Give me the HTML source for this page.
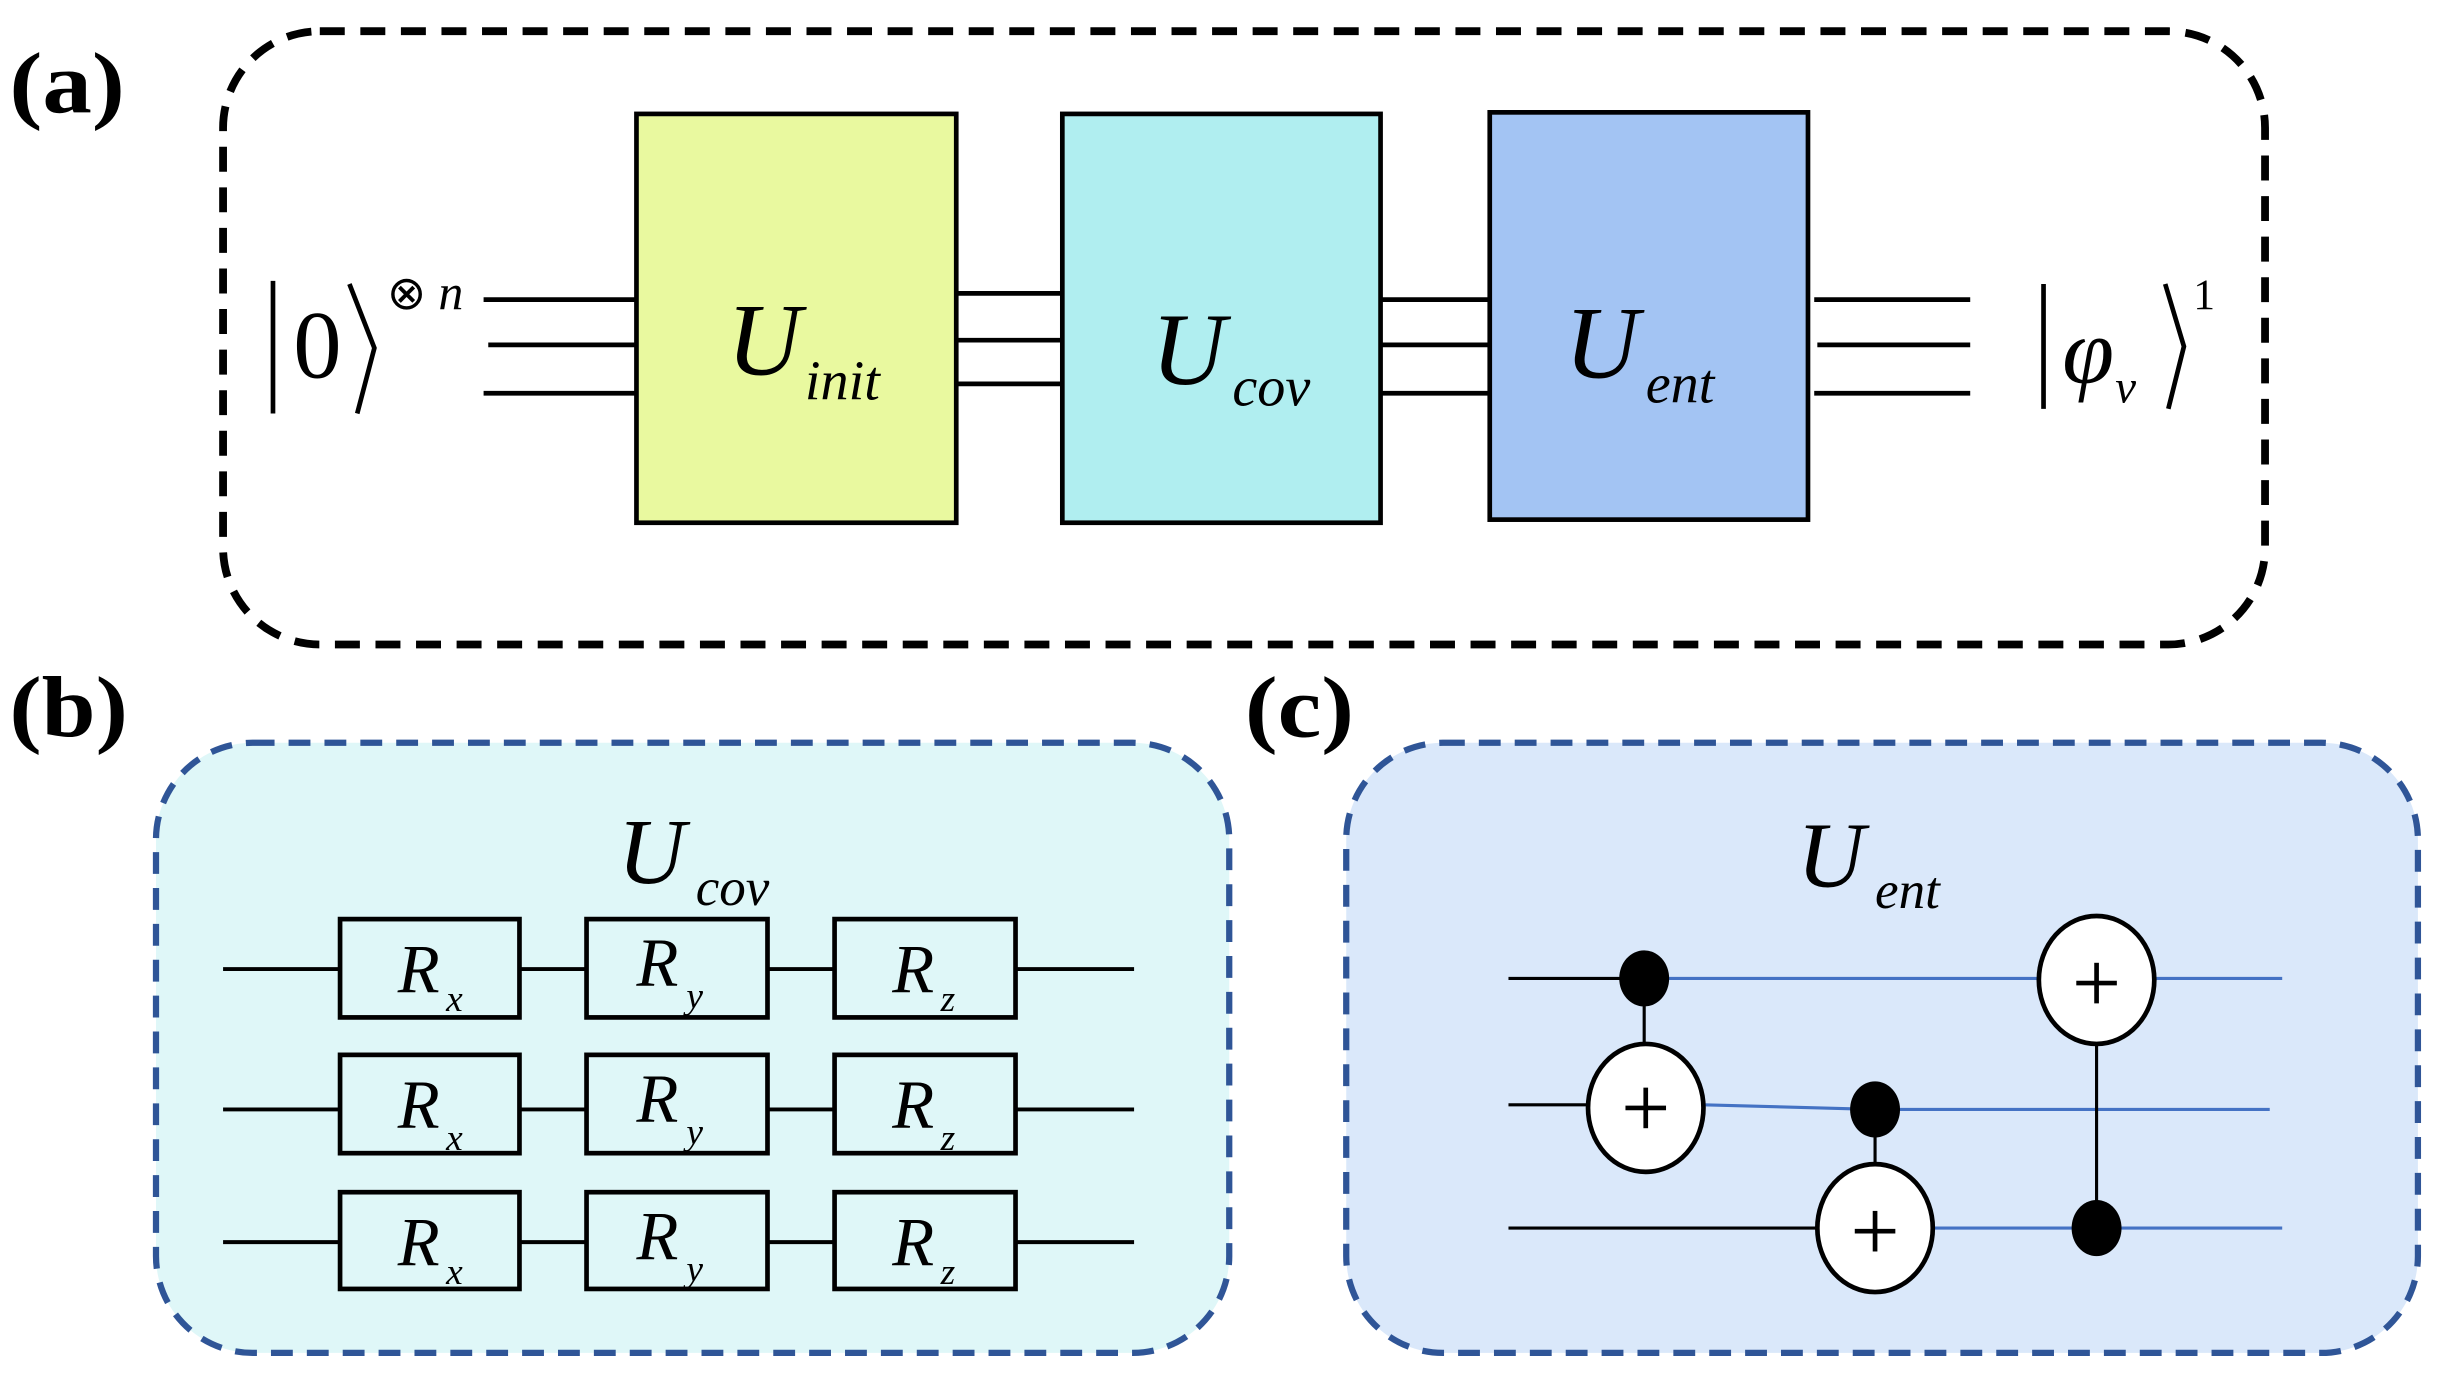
<!DOCTYPE html>
<html><head><style>html,body{margin:0;padding:0;background:#fff}svg{display:block}svg text{font-family:"Liberation Serif","Times New Roman",serif}</style></head><body>
<svg width="2446" height="1381" viewBox="0 0 1568 885" preserveAspectRatio="none" xmlns="http://www.w3.org/2000/svg">
<text x="6" y="72" font-size="56" font-weight="bold" textLength="74" lengthAdjust="spacingAndGlyphs">(a)</text>
<text x="6" y="472" font-size="56" font-weight="bold" textLength="76" lengthAdjust="spacingAndGlyphs">(b)</text>
<text x="798" y="472" font-size="56" font-weight="bold" textLength="70" lengthAdjust="spacingAndGlyphs">(c)</text>
<rect x="143" y="20" width="1309" height="393" rx="62" fill="none" stroke="#000" stroke-width="5" stroke-dasharray="16 10"/>
<g stroke="#000" stroke-width="3">
<line x1="310" y1="192" x2="407" y2="192"/><line x1="313" y1="221" x2="410" y2="221"/><line x1="310" y1="252" x2="407" y2="252"/>
<line x1="613" y1="188" x2="680" y2="188"/><line x1="613" y1="218" x2="680" y2="218"/><line x1="613" y1="246" x2="680" y2="246"/>
<line x1="885" y1="192" x2="954" y2="192"/><line x1="885" y1="221" x2="954" y2="221"/><line x1="885" y1="252" x2="954" y2="252"/>
<line x1="1163" y1="192" x2="1263" y2="192"/><line x1="1165" y1="221" x2="1263" y2="221"/><line x1="1163" y1="252" x2="1263" y2="252"/>
</g>
<rect x="408" y="73" width="205" height="262" fill="#e9f99f" stroke="#000" stroke-width="3"/>
<rect x="681" y="73" width="204" height="262" fill="#b0eef0" stroke="#000" stroke-width="3"/>
<rect x="955" y="72" width="204" height="261" fill="#a3c4f3" stroke="#000" stroke-width="3"/>
<g font-style="italic">
<text x="466" y="240" font-size="66">U</text><text x="516" y="256" font-size="36">init</text>
<text x="738" y="246" font-size="66">U</text><text x="790" y="260" font-size="36">cov</text>
<text x="1003" y="242" font-size="66">U</text><text x="1055" y="258" font-size="36">ent</text>
</g>
<g stroke="#000" stroke-width="3" fill="none">
<line x1="175" y1="180" x2="175" y2="265"/><path d="M224 182 L240 223 L229 265"/>
<line x1="1310" y1="182" x2="1310" y2="262"/><path d="M1388 182 L1400 222 L1390 262"/>
</g>
<text x="188" y="242" font-size="62">0</text>
<text x="248" y="198" font-size="30">⊗</text><text x="281" y="198" font-size="32" font-style="italic">n</text>
<text x="1322" y="245" font-size="60" font-style="italic">φ</text><text x="1356" y="258" font-size="30" font-style="italic">v</text>
<text x="1406" y="198" font-size="28">1</text>

<rect x="100" y="476" width="688" height="391" rx="62" fill="#dff7f8" stroke="#2f5597" stroke-width="4" stroke-dasharray="14 9"/>
<rect x="863" y="476" width="687" height="391" rx="62" fill="#dae8fa" stroke="#2f5597" stroke-width="4" stroke-dasharray="14 9"/>
<g font-style="italic">
<text x="396" y="566" font-size="60">U</text><text x="446" y="580" font-size="34">cov</text>
<text x="1152" y="568" font-size="60">U</text><text x="1202" y="582" font-size="34">ent</text>
</g>
<g stroke="#000" stroke-width="2.5">
<line x1="143" y1="621" x2="727" y2="621"/><line x1="143" y1="711" x2="727" y2="711"/><line x1="143" y1="796" x2="727" y2="796"/>
</g>
<g fill="#dff7f8" stroke="#000" stroke-width="3">
<rect x="218" y="589" width="115" height="63"/><rect x="376" y="589" width="116" height="63"/><rect x="535" y="589" width="116" height="63"/>
<rect x="218" y="676" width="115" height="63"/><rect x="376" y="676" width="116" height="63"/><rect x="535" y="676" width="116" height="63"/>
<rect x="218" y="764" width="115" height="62"/><rect x="376" y="764" width="116" height="62"/><rect x="535" y="764" width="116" height="62"/>
</g>
<g font-style="italic" font-size="44">
<text x="255" y="636">R</text><text x="286" y="648" font-size="24">x</text>
<text x="408" y="632">R</text><text x="440" y="646" font-size="24">y</text>
<text x="572" y="636">R</text><text x="603" y="648" font-size="24">z</text>
<text x="255" y="723">R</text><text x="286" y="737" font-size="24">x</text>
<text x="408" y="719">R</text><text x="440" y="733" font-size="24">y</text>
<text x="572" y="723">R</text><text x="603" y="737" font-size="24">z</text>
<text x="255" y="811">R</text><text x="286" y="823" font-size="24">x</text>
<text x="408" y="807">R</text><text x="440" y="821" font-size="24">y</text>
<text x="572" y="811">R</text><text x="603" y="823" font-size="24">z</text>
</g>

<g stroke-width="2">
<line x1="967" y1="627" x2="1054" y2="627" stroke="#000"/>
<line x1="1054" y1="627" x2="1463" y2="627" stroke="#4472c4"/>
<line x1="967" y1="708" x2="1020" y2="708" stroke="#000"/>
<line x1="1092" y1="708" x2="1202" y2="711" stroke="#4472c4"/>
<line x1="1202" y1="711" x2="1455" y2="711" stroke="#4472c4"/>
<line x1="967" y1="787" x2="1165" y2="787" stroke="#000"/>
<line x1="1240" y1="787" x2="1463" y2="787" stroke="#4472c4"/>
<line x1="1054" y1="627" x2="1054" y2="670" stroke="#000"/>
<line x1="1202" y1="711" x2="1202" y2="750" stroke="#000"/>
<line x1="1344" y1="665" x2="1344" y2="787" stroke="#000"/>
</g>
<g fill="#000">
<ellipse cx="1054" cy="627" rx="16" ry="18"/><ellipse cx="1202" cy="711" rx="16" ry="18"/><ellipse cx="1344" cy="787" rx="16" ry="18"/>
</g>
<g fill="#fff" stroke="#000" stroke-width="3">
<ellipse cx="1055" cy="710" rx="37" ry="41"/><ellipse cx="1202" cy="787" rx="37" ry="41"/><ellipse cx="1344" cy="628" rx="37" ry="41"/>
</g>
<g stroke="#000" stroke-width="3">
<line x1="1042" y1="710" x2="1068" y2="710"/><line x1="1055" y1="697" x2="1055" y2="723"/>
<line x1="1189" y1="789" x2="1215" y2="789"/><line x1="1202" y1="776" x2="1202" y2="802"/>
<line x1="1331" y1="630" x2="1357" y2="630"/><line x1="1344" y1="617" x2="1344" y2="643"/>
</g>
</svg>
</body></html>
